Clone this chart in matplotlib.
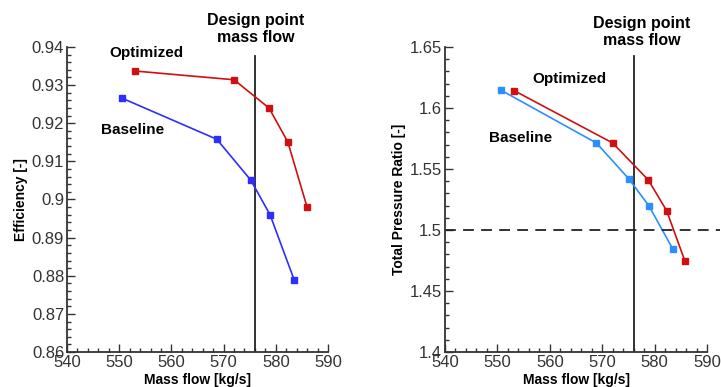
import matplotlib.pyplot as plt
from matplotlib.ticker import MultipleLocator

plt.rcParams['font.family'] = ['Liberation Sans', 'DejaVu Sans']

# Efficiency vs mass flow
eff_base_x = [550.5, 568.7, 575.2, 578.9, 583.5]
eff_base_y = [0.9266, 0.9158, 0.9051, 0.8960, 0.8790]
eff_opt_x = [553.0, 572.0, 578.7, 582.3, 586.0]
eff_opt_y = [0.9337, 0.9314, 0.9240, 0.9151, 0.8980]

# Total pressure ratio vs mass flow
pr_base_x = [550.6, 568.9, 575.1, 578.9, 583.5]
pr_base_y = [1.6148, 1.5713, 1.5418, 1.5199, 1.4842]
pr_opt_x = [553.2, 572.0, 578.8, 582.3, 585.8]
pr_opt_y = [1.6142, 1.5713, 1.5410, 1.5158, 1.4743]

design_flow = 576.0
target_pr = 1.5

fig = plt.figure(figsize=(7.21, 3.87), dpi=100)
ax1 = fig.add_axes([0.0929, 0.0904, 0.3620, 0.7882])
ax2 = fig.add_axes([0.6172, 0.0904, 0.3634, 0.7882])

spine_col = '#333333'
for ax in (ax1, ax2):
    for s in ('top', 'right'):
        ax.spines[s].set_visible(False)
    for s in ('left', 'bottom'):
        ax.spines[s].set_color(spine_col)
        ax.spines[s].set_linewidth(1.3)
    ax.set_xlim(540, 590)
    ax.xaxis.set_major_locator(MultipleLocator(10))
    ax.xaxis.set_minor_locator(MultipleLocator(2))
    ax.tick_params(which='both', direction='in', color=spine_col, width=1.0,
                   labelsize=12, labelcolor='#333333')
    ax.tick_params(which='major', length=6, pad=2)
    ax.tick_params(which='minor', length=3)
    ax.set_xlabel('Mass flow [kg/s]', fontweight='bold', fontsize=10, labelpad=2)
    ax.axvline(design_flow, color='#222222', lw=1.3, ymax=0.97)

# left panel
ax1.set_ylim(0.86, 0.94)
ax1.yaxis.set_major_locator(MultipleLocator(0.01))
ax1.yaxis.set_minor_locator(MultipleLocator(0.002))
ax1.yaxis.set_major_formatter(plt.FuncFormatter(lambda v, p: f'{v:g}'))
ax1.plot(eff_base_x, eff_base_y, color='#2e2eff', marker='s', ms=4.5, lw=1.2)
ax1.plot(eff_opt_x, eff_opt_y, color='#d01010', marker='s', ms=4.5, lw=1.2)
ax1.set_ylabel('Efficiency [-]', fontweight='bold', fontsize=10, labelpad=3)
ax1.text(555.3, 0.9384, 'Optimized', fontweight='bold', fontsize=11, ha='center', va='center')
ax1.text(552.5, 0.9182, 'Baseline', fontweight='bold', fontsize=11, ha='center', va='center')
ax1.text(576.2, 0.9447, 'Design point\nmass flow', fontweight='bold', fontsize=11.5,
         ha='center', va='center', linespacing=1.1)

# right panel
ax2.set_ylim(1.4, 1.65)
ax2.yaxis.set_major_locator(MultipleLocator(0.05))
ax2.yaxis.set_minor_locator(MultipleLocator(0.01))
ax2.yaxis.set_major_formatter(plt.FuncFormatter(lambda v, p: f'{v:g}'))
ax2.plot(pr_base_x, pr_base_y, color='#2b8fff', marker='s', ms=4.5, lw=1.2)
ax2.plot(pr_opt_x, pr_opt_y, color='#d01010', marker='s', ms=4.5, lw=1.2)
ax2.plot([540, 592.5], [target_pr, target_pr], color='#222222', lw=1.3,
         ls=(0, (6, 4)), clip_on=False)
ax2.set_ylabel('Total Pressure Ratio [-]', fontweight='bold', fontsize=10, labelpad=3)
ax2.text(563.7, 1.6238, 'Optimized', fontweight='bold', fontsize=11, ha='center', va='center')
ax2.text(554.5, 1.5754, 'Baseline', fontweight='bold', fontsize=11, ha='center', va='center')
ax2.text(577.5, 1.6623, 'Design point\nmass flow', fontweight='bold', fontsize=11.5,
         ha='center', va='center', linespacing=1.1)

fig.savefig('out.png', dpi=100)
